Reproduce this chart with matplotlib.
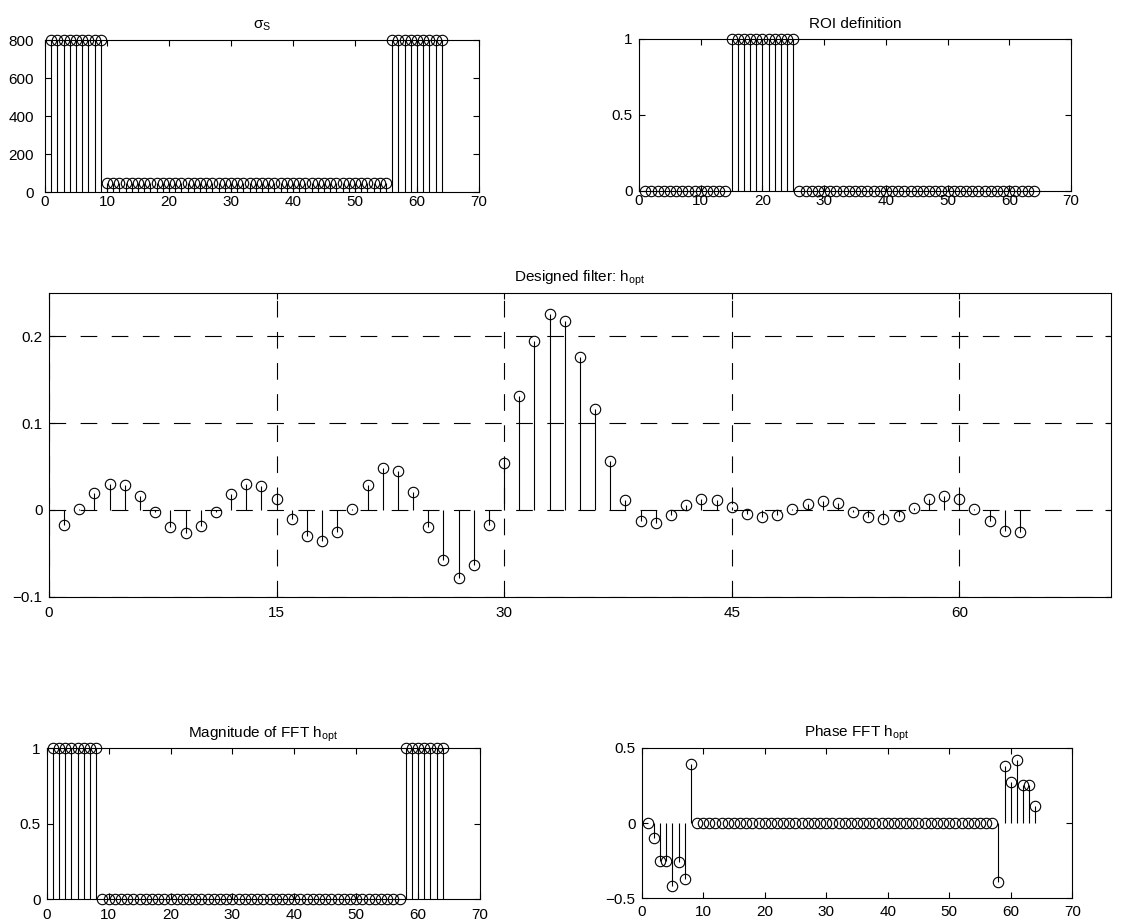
import matplotlib
matplotlib.use("Agg")
import matplotlib.pyplot as plt
import numpy as np

plt.rcParams['font.family'] = ['Liberation Sans', 'DejaVu Sans']
plt.rcParams['mathtext.fontset'] = 'custom'
plt.rcParams['mathtext.rm'] = 'Liberation Sans'
plt.rcParams['mathtext.it'] = 'Liberation Sans:italic'
plt.rcParams['font.size'] = 11

# sample index 1..64
n = list(range(1, 65))

sigma_s = [
    800, 800, 800, 800, 800, 800, 800, 800, 800,
    50, 50, 50, 50, 50, 50, 50, 50, 50, 50, 50, 50, 50, 50, 50, 50,
    50, 50, 50, 50, 50, 50, 50, 50, 50, 50, 50, 50, 50, 50, 50, 50,
    50, 50, 50, 50, 50, 50, 50, 50, 50, 50, 50, 50, 50, 50,
    800, 800, 800, 800, 800, 800, 800, 800, 800,
]

roi = [
    0, 0, 0, 0, 0, 0, 0, 0, 0, 0, 0, 0, 0, 0,
    1, 1, 1, 1, 1, 1, 1, 1, 1, 1, 1,
    0, 0, 0, 0, 0, 0, 0, 0, 0, 0, 0, 0, 0, 0, 0, 0, 0, 0, 0, 0,
    0, 0, 0, 0, 0, 0, 0, 0, 0, 0, 0, 0, 0, 0, 0, 0, 0, 0, 0,
]

h_opt = [
    -0.017, 0.001, 0.019, 0.030, 0.029, 0.016, -0.003, -0.020,
    -0.027, -0.019, -0.002, 0.018, 0.030, 0.028, 0.012, -0.011,
    -0.030, -0.036, -0.025, 0.001, 0.029, 0.048, 0.045, 0.020,
    -0.020, -0.058, -0.078, -0.064, -0.018, 0.054, 0.131, 0.194,
    0.225, 0.217, 0.176, 0.116, 0.056, 0.011, -0.013, -0.015,
    -0.006, 0.006, 0.013, 0.011, 0.003, -0.005, -0.008, -0.006,
    0.001, 0.007, 0.010, 0.008, -0.002, -0.008, -0.011, -0.007,
    0.002, 0.012, 0.016, 0.013, 0.001, -0.013, -0.024, -0.025,
]

fft_mag = [
    1, 1, 1, 1, 1, 1, 1, 1,
    0, 0, 0, 0, 0, 0, 0, 0, 0, 0, 0, 0, 0, 0, 0, 0, 0, 0, 0, 0, 0, 0, 0, 0, 0, 0, 0,
    0, 0, 0, 0, 0, 0, 0, 0, 0, 0, 0, 0, 0, 0, 0, 0, 0, 0, 0, 0, 0, 0,
    1, 1, 1, 1, 1, 1, 1,
]

fft_phase = [
    0.0, -0.10, -0.25, -0.25, -0.42, -0.26, -0.37, 0.39,
    0, 0, 0, 0, 0, 0, 0, 0, 0, 0, 0, 0, 0, 0, 0, 0, 0, 0, 0, 0, 0, 0, 0, 0, 0, 0, 0,
    0, 0, 0, 0, 0, 0, 0, 0, 0, 0, 0, 0, 0, 0, 0, 0, 0, 0, 0, 0, 0, 0,
    -0.39, 0.38, 0.27, 0.42, 0.25, 0.25, 0.11,
]

small_xticks = [0, 10, 20, 30, 40, 50, 60, 70]
mid_xticks = [0, 15, 30, 45, 60]
mid_yticks = [-0.1, 0, 0.1, 0.2]

fig = plt.figure(figsize=(11.23, 9.24), dpi=100)


def stem_panel(ax, x, y, title, xpad=5, ypad=4.5):
    ax.vlines(x, 0, y, colors='black', linewidth=0.8, zorder=3)
    ax.plot(x, y, linestyle='none', marker='o', markersize=7.5,
            markerfacecolor='none', markeredgecolor='black',
            markeredgewidth=0.8, clip_on=False, zorder=4)
    ax.set_title(title, pad=8, fontsize=11)
    ax.tick_params(direction='in', top=True, right=True, length=4,
                   width=0.8, labelsize=11)
    ax.tick_params(axis='x', pad=xpad)
    ax.tick_params(axis='y', pad=ypad)
    for s in ax.spines.values():
        s.set_linewidth(0.8)


ax1 = fig.add_axes([0.0401, 0.7922, 0.3865, 0.1645])
stem_panel(ax1, n, sigma_s, r'$\mathrm{σ}_\mathrm{S}$', xpad=2, ypad=8)
ax1.set_xlim(0, 70)
ax1.set_ylim(0, 800)
ax1.set_xticks(small_xticks)
ax1.set_yticks([0, 200, 400, 600, 800])

ax2 = fig.add_axes([0.569, 0.7933, 0.3847, 0.1645])
stem_panel(ax2, n, roi, 'ROI definition', xpad=2)
ax2.set_xlim(0, 70)
ax2.set_ylim(0, 1)
ax2.set_xticks(small_xticks)
ax2.set_yticks([0, 0.5, 1])
ax2.set_yticklabels(['0', '0.5', '1'])

ax3 = fig.add_axes([0.0436, 0.3542, 0.9457, 0.329])
stem_panel(ax3, n, h_opt, r'Designed filter: h$_\mathrm{opt}$', xpad=7)
ax3.set_xlim(0, 70)
ax3.set_ylim(-0.1, 0.25)
ax3.set_xticks(mid_xticks)
ax3.set_yticks(mid_yticks)
ax3.set_yticklabels(['\u22120.1', '0', '0.1', '0.2'])
ax3.grid(True, color='black', linewidth=0.8, linestyle=(0, (15, 13)))
ax3.set_axisbelow(True)

ax4 = fig.add_axes([0.0416, 0.0267, 0.3858, 0.1634])
stem_panel(ax4, n, fft_mag, r'Magnitude of FFT h$_\mathrm{opt}$', xpad=6)
ax4.set_xlim(0, 70)
ax4.set_ylim(0, 1)
ax4.set_xticks(small_xticks)
ax4.set_yticks([0, 0.5, 1])
ax4.set_yticklabels(['0', '0.5', '1'])

ax5 = fig.add_axes([0.5714, 0.0278, 0.3834, 0.163])
stem_panel(ax5, n, fft_phase, r'Phase FFT h$_\mathrm{opt}$', xpad=5)
ax5.set_xlim(0, 70)
ax5.set_ylim(-0.5, 0.5)
ax5.set_xticks(small_xticks)
ax5.set_yticks([-0.5, 0, 0.5])
ax5.set_yticklabels(['\u22120.5', '0', '0.5'])

fig.savefig('out.png', dpi=100)
